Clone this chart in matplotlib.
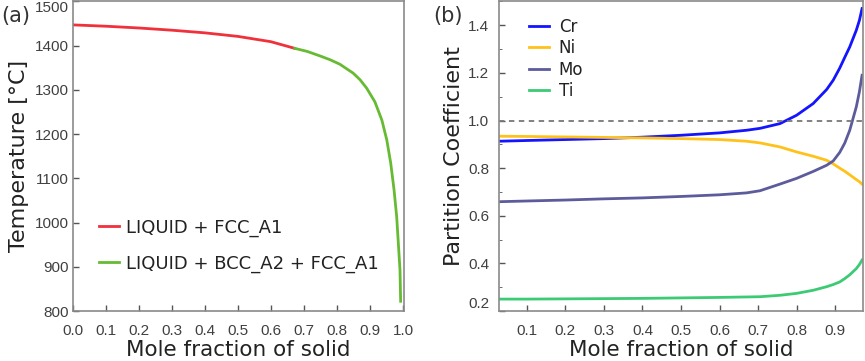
import matplotlib
matplotlib.use("Agg")
import matplotlib.pyplot as plt
from matplotlib.ticker import MultipleLocator

# ---- data: panel (a) ----
frac_fcc = [0.0, 0.1, 0.2, 0.3, 0.4, 0.5, 0.6, 0.672]
temp_fcc = [1447, 1444, 1440, 1435, 1429, 1421, 1409, 1394]
frac_bcc = [0.672, 0.71, 0.748, 0.78, 0.809, 0.849, 0.870, 0.890, 0.915, 0.936,
            0.951, 0.963, 0.973, 0.981, 0.986, 0.991, 0.993]
temp_bcc = [1394, 1387, 1377, 1368, 1358, 1338, 1323, 1304, 1273, 1232,
            1187, 1134, 1074, 1013, 953, 893, 822]

# ---- data: panel (b) ----
frac_b = [0.028, 0.1, 0.2, 0.3, 0.4, 0.5, 0.6, 0.67, 0.705, 0.757, 0.8, 0.843,
          0.878, 0.895, 0.912, 0.925, 0.938, 0.955, 0.963, 0.97]
k_cr = [0.913, 0.916, 0.920, 0.924, 0.930, 0.938, 0.948, 0.959, 0.967, 0.987, 1.022,
        1.071, 1.130, 1.169, 1.220, 1.265, 1.309, 1.379, 1.420, 1.470]
k_ni = [0.934, 0.933, 0.931, 0.929, 0.927, 0.924, 0.920, 0.913, 0.906, 0.889, 0.868,
        0.850, 0.833, 0.818, 0.800, 0.787, 0.772, 0.752, 0.743, 0.733]
k_mo = [0.659, 0.662, 0.666, 0.671, 0.675, 0.681, 0.688, 0.696, 0.705, 0.733, 0.757,
        0.786, 0.812, 0.830, 0.866, 0.905, 0.959, 1.057, 1.120, 1.190]
k_ti = [0.250, 0.250, 0.251, 0.252, 0.253, 0.255, 0.257, 0.259, 0.260, 0.266, 0.274,
        0.287, 0.302, 0.311, 0.322, 0.336, 0.352, 0.378, 0.395, 0.414]
series_b = ["Cr", "Ni", "Mo", "Ti"]

xticks_a = [0.0, 0.1, 0.2, 0.3, 0.4, 0.5, 0.6, 0.7, 0.8, 0.9, 1.0]
yticks_a = [800, 900, 1000, 1100, 1200, 1300, 1400, 1500]
xticks_b = [0.1, 0.2, 0.3, 0.4, 0.5, 0.6, 0.7, 0.8, 0.9]
yticks_b = [0.2, 0.4, 0.6, 0.8, 1.0, 1.2, 1.4]

plt.rcParams['font.family'] = ['DejaVu Sans']
fig = plt.figure(figsize=(8.65, 3.61), dpi=100)

spine_c = "#8a8a8a"
tick_c = "#404040"
label_c = "#222222"

def style(ax, ypad):
    for s in ax.spines.values():
        s.set_color(spine_c)
        s.set_linewidth(1.2)
    ax.tick_params(direction="in", length=4, width=1.0, color="#555555",
                   labelcolor=tick_c)
    ax.tick_params(axis="x", pad=9)
    ax.tick_params(axis="y", pad=ypad)
    for lab in ax.get_xticklabels() + ax.get_yticklabels():
        lab.set_fontfamily("Liberation Sans")
        lab.set_fontsize(11)

# panel (a)
ax1 = fig.add_axes([0.084, 0.1385, 0.383, 0.8575])
ax1.plot(frac_fcc, temp_fcc, color="#f0303a", lw=2.0, label="LIQUID + FCC_A1")
ax1.plot(frac_bcc, temp_bcc, color="#66bb33", lw=2.0, label="LIQUID + BCC_A2 + FCC_A1")
ax1.set_xlim(0.0, 1.003)
ax1.set_ylim(800, 1500)
ax1.set_xticks(xticks_a)
ax1.set_yticks(yticks_a)
ax1.set_xticklabels([f"{v:.1f}" for v in xticks_a])
ax1.set_yticklabels([str(v) for v in yticks_a])
style(ax1, 3)
ax1.get_yticklabels()[-1].set_verticalalignment("top")
ax1.set_xlabel("Mole fraction of solid", fontsize=15.5, color=label_c, labelpad=2)
ax1.set_ylabel("Temperature [°C]", fontsize=16, color=label_c, labelpad=4)
ax1.legend(loc="lower left", bbox_to_anchor=(0.03, 0.07), frameon=False, fontsize=13,
           handlelength=1.1, handletextpad=0.4, labelspacing=1.0, labelcolor=label_c)
fig.text(0.002, 0.956, "(a)", fontsize=15, color="#333333", va="center")

# panel (b)
ax2 = fig.add_axes([0.577, 0.1385, 0.4205, 0.8575])
colors_b = ["#1414ff", "#ffc21a", "#5c5c9c", "#3ccb74"]
for name, vals, c in zip(series_b, [k_cr, k_ni, k_mo, k_ti], colors_b):
    ax2.plot(frac_b, vals, color=c, lw=2.0, label=name)
ax2.axhline(1.0, color="#777777", lw=1.3, ls=(0, (3, 2.5)))
ax2.set_xlim(0.028, 0.972)
ax2.set_ylim(0.2, 1.5)
ax2.set_xticks(xticks_b)
ax2.set_yticks(yticks_b)
ax2.yaxis.set_minor_locator(MultipleLocator(0.1))
ax2.set_xticklabels([f"{v:.1f}" for v in xticks_b])
ax2.set_yticklabels([f"{v:.1f}" for v in yticks_b])
style(ax2, 7)
ax2.get_yticklabels()[0].set_verticalalignment("bottom")
ax2.tick_params(which="minor", direction="in", length=2.5, color="#555555")
ax2.set_xlabel("Mole fraction of solid", fontsize=15.5, color=label_c, labelpad=2)
ax2.set_ylabel("Partition Coefficient", fontsize=16, color=label_c, labelpad=3)
ax2.legend(loc="upper left", bbox_to_anchor=(0.04, 0.995), frameon=False, fontsize=12,
           handlelength=1.2, handletextpad=0.6, labelspacing=0.2, labelcolor=label_c)
fig.text(0.5006, 0.956, "(b)", fontsize=15, color="#333333", va="center")

fig.savefig("out.png", dpi=100)
